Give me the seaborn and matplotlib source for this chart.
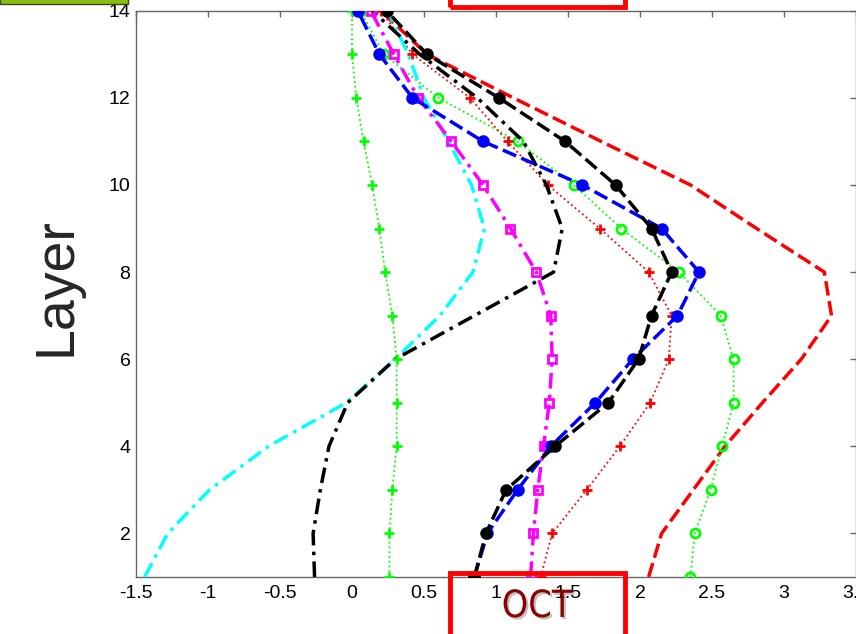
import matplotlib
matplotlib.use("Agg")
import matplotlib.pyplot as plt
import matplotlib.patches as mpatches
import matplotlib.patheffects as pe
import seaborn as sns
import pandas as pd

# ---- data ----
layers = list(range(1, 15))
green_plus   = [0.26, 0.26, 0.28, 0.31, 0.31, 0.31, 0.28, 0.23, 0.19, 0.14, 0.08, 0.03, 0.00, 0.00]
cyan_dashdot = [-1.44, -1.28, -0.99, -0.58, -0.04, 0.30, 0.61, 0.84, 0.92, 0.83, 0.67, 0.50, 0.39, 0.25]
black_dashdot = [-0.26, -0.27, -0.22, -0.16, -0.03, 0.30, 0.85, 1.40, 1.46, 1.35, 1.19, 0.87, 0.47, 0.14]
blue_circle  = [0.85, 0.94, 1.15, 1.38, 1.69, 1.95, 2.26, 2.41, 2.15, 1.60, 0.91, 0.42, 0.19, 0.04]
magenta_sq   = [1.24, 1.26, 1.29, 1.33, 1.37, 1.39, 1.38, 1.28, 1.10, 0.91, 0.69, 0.46, 0.29, 0.13]
red_plus     = [1.31, 1.39, 1.63, 1.86, 2.07, 2.20, 2.22, 2.06, 1.72, 1.36, 1.08, 0.82, 0.42, 0.20]
red_dashed   = [2.06, 2.15, 2.37, 2.59, 2.85, 3.12, 3.33, 3.28, 2.81, 2.35, 1.73, 1.12, 0.52, 0.20]
green_circle = [2.35, 2.38, 2.49, 2.57, 2.65, 2.65, 2.56, 2.27, 1.87, 1.54, 1.15, 0.60, 0.22, 0.06]
black_circle = [0.85, 0.93, 1.07, 1.41, 1.78, 1.99, 2.08, 2.22, 2.08, 1.83, 1.48, 1.02, 0.52, 0.24]

xticks = [-1.5, -1, -0.5, 0, 0.5, 1, 1.5, 2, 2.5, 3, 3.5]
xticklabels = ["-1.5", "-1", "-0.5", "0", "0.5", "1", "1.5", "2", "2.5", "3", "3.5"]
yticks = [2, 4, 6, 8, 10, 12, 14]
ylabel = "Layer"
month_label = "OCT"

sns.set_style("white")
plt.rcParams["font.family"] = ["Liberation Sans", "DejaVu Sans"]

fig = plt.figure(figsize=(8.56, 6.34), dpi=100)
W, H = 856, 634
ax = fig.add_axes([136 / W, 1 - 577 / H, 720 / W, (577 - 10.7) / H])

def draw(vals, color, ls, lw, marker=None, ms=0, mfc=None, mew=2.0, z=2):
    df = pd.DataFrame({"value": vals, "layer": layers})
    kw = {}
    if marker is not None:
        kw = dict(marker=marker, markersize=ms,
                  markerfacecolor=(color if mfc is None else mfc),
                  markeredgecolor=color, markeredgewidth=mew)
    sns.lineplot(data=df, x="value", y="layer", orient="y", sort=False,
                 estimator=None, color=color, linestyle=ls, linewidth=lw,
                 ax=ax, zorder=z, **kw)

dash = (0, (4.2, 1.6))
dashdot = (0, (4.5, 1.8, 1, 1.8))
draw(red_dashed, "#ff0000", dash, 2.5, z=2)
draw(green_circle, "#00ff00", ":", 1.3, marker="o", ms=6.5, mfc="none", mew=2.0, z=3)
draw(red_plus, "#ff0000", ":", 1.3, marker="+", ms=7.5, mew=2.0, z=3)
draw(cyan_dashdot, "#00ffff", dashdot, 2.5, z=3)
draw(black_dashdot, "#000000", dashdot, 2.5, z=3)
draw(magenta_sq, "#ff00ff", dashdot, 2.5, marker="s", ms=5.5, mfc="none", mew=2.0, z=4)
draw(green_plus, "#00ff00", ":", 1.3, marker="+", ms=7.5, mew=2.0, z=4)
draw(blue_circle, "#0000ff", dash, 2.5, marker="o", ms=7, z=4)
draw(black_circle, "#000000", dash, 2.5, marker="o", ms=7, z=5)

ax.set_xlim(-1.5, 3.5)
ax.set_ylim(1, 14)
ax.set_xticks(xticks)
ax.set_xticklabels(xticklabels)
ax.set_yticks(yticks)
ax.set_xlabel("")
ax.set_ylabel(ylabel, fontsize=40, va="bottom")
ax.yaxis.set_label_coords(-0.074, 0.512)

for sp in ax.spines.values():
    sp.set_visible(True)
    sp.set_color("#666666")
    sp.set_linewidth(1.0)
ax.tick_params(axis="both", which="both", direction="in", length=4.5, width=1,
               color="#666666", top=True, right=True, labelsize=14,
               labelcolor="black")
ax.tick_params(axis="x", pad=6)
ax.tick_params(axis="y", pad=4)

# decorations outside the plot
fig.patches.append(mpatches.Rectangle((0, (H - 3.5) / H), 128 / W, 6 / H,
                                      transform=fig.transFigure, facecolor="#8cbf10",
                                      edgecolor="#3a4a10", linewidth=1.0,
                                      clip_on=False))
fig.patches.append(mpatches.Rectangle((449.5 / W, (H - 6.5) / H), 175.5 / W, 20 / H,
                                      transform=fig.transFigure, fill=False,
                                      edgecolor="#ff0000", linewidth=3.5,
                                      clip_on=False, zorder=10))
fig.patches.append(mpatches.Rectangle((449.5 / W, -20 / H), 175.5 / W, (H - 573 + 20) / H,
                                      transform=fig.transFigure, fill=False,
                                      edgecolor="#ff0000", linewidth=3.5,
                                      clip_on=False, zorder=10))
fig.text(537 / W, 1 - 607 / H, month_label, color="#8b0000", fontsize=27,
         ha="center", va="center", family=["DejaVu Sans"], fontstretch="condensed",
         path_effects=[pe.withSimplePatchShadow(offset=(1.5, -1.5),
                                                shadow_rgbFace="#999999", alpha=0.6)])

fig.savefig("out.png", dpi=100)
